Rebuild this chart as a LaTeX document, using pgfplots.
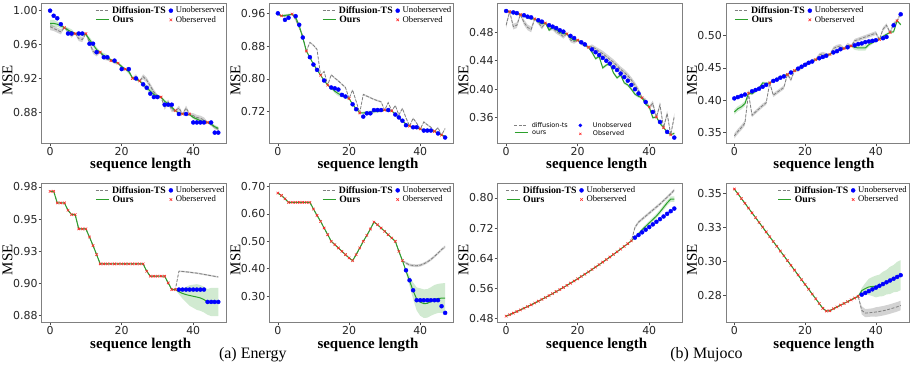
\documentclass[border=0pt]{standalone}
\usepackage{fontspec}
\setmainfont{Liberation Serif}
\newfontfamily\dejavu{DejaVu Sans}
\usepackage{pgfplots}
\usepackage{pgfplotstable}
\pgfplotsset{compat=1.18}
\usepgfplotslibrary{fillbetween}

\definecolor{oursgreen}{RGB}{44,160,44}
\definecolor{obsred}{RGB}{255,40,40}

% columns: x, unobserved truth, observed truth, ours mean, ours spread, diffusion-ts mean, diffusion-ts spread
\pgfplotstableread{
x unob ob ours osd dts dsd
0 1.000 nan 0.985 0.004 0.981 0.004
1 0.994 nan 0.985 0.004 0.979 0.003
2 0.991 nan 0.984 0.003 0.977 0.003
3 0.984 nan 0.982 0.003 0.975 0.003
4 nan 0.980 0.980 0.001 0.980 0.001
5 0.973 nan 0.977 0.003 0.976 0.003
6 0.973 nan 0.975 0.003 0.971 0.003
7 nan 0.973 0.973 0.001 0.973 0.001
8 0.973 nan 0.972 0.002 0.967 0.003
9 0.973 nan 0.972 0.002 0.966 0.003
10 nan 0.973 0.972 0.001 0.973 0.001
11 0.961 nan 0.966 0.003 0.962 0.003
12 0.961 nan 0.960 0.003 0.952 0.003
13 0.951 nan 0.954 0.003 0.949 0.003
14 nan 0.951 0.951 0.001 0.951 0.001
15 0.945 nan 0.947 0.003 0.944 0.002
16 0.945 nan 0.945 0.003 0.943 0.002
17 nan 0.941 0.942 0.001 0.941 0.001
18 0.941 nan 0.940 0.002 0.939 0.002
19 nan 0.938 0.938 0.001 0.938 0.001
20 0.931 nan 0.934 0.002 0.933 0.002
21 nan 0.931 0.931 0.001 0.931 0.001
22 0.931 nan 0.928 0.003 0.929 0.002
23 nan 0.920 0.921 0.001 0.920 0.001
24 0.920 nan 0.919 0.002 0.922 0.003
25 nan 0.917 0.917 0.001 0.917 0.001
26 0.913 nan 0.913 0.003 0.922 0.003
27 0.909 nan 0.909 0.003 0.918 0.003
28 0.902 nan 0.905 0.003 0.911 0.003
29 0.898 nan 0.901 0.003 0.904 0.003
30 0.898 nan 0.899 0.002 0.899 0.002
31 nan 0.898 0.898 0.001 0.898 0.001
32 0.889 nan 0.893 0.002 0.886 0.003
33 0.889 nan 0.890 0.002 0.892 0.003
34 0.889 nan 0.886 0.002 0.883 0.003
35 nan 0.882 0.882 0.001 0.882 0.001
36 0.878 nan 0.879 0.002 0.885 0.003
37 nan 0.878 0.878 0.001 0.878 0.001
38 0.878 nan 0.878 0.002 0.885 0.003
39 nan 0.878 0.877 0.001 0.878 0.001
40 0.868 nan 0.874 0.002 0.876 0.003
41 0.868 nan 0.872 0.002 0.874 0.003
42 0.868 nan 0.870 0.002 0.873 0.003
43 0.868 nan 0.869 0.002 0.871 0.003
44 nan 0.868 0.868 0.001 0.868 0.001
45 0.868 nan 0.866 0.002 0.866 0.002
46 0.856 nan 0.863 0.002 0.862 0.002
47 0.856 nan 0.861 0.002 0.860 0.002
}\energytop

\pgfplotstableread{
x unob ob ours osd dts dsd
0 0.960 nan 0.958 0.002 0.957 0.002
1 nan 0.954 0.954 0.001 0.954 0.001
2 0.944 nan 0.955 0.003 0.953 0.002
3 0.949 nan 0.956 0.003 0.955 0.002
4 nan 0.958 0.958 0.001 0.958 0.001
5 0.953 nan 0.950 0.004 0.945 0.004
6 0.932 nan 0.930 0.004 0.925 0.004
7 0.901 nan 0.900 0.003 0.905 0.003
8 nan 0.868 0.868 0.001 0.868 0.001
9 0.853 nan 0.852 0.002 0.889 0.002
10 0.835 nan 0.836 0.002 0.882 0.002
11 0.822 nan 0.822 0.002 0.872 0.002
12 nan 0.809 0.809 0.001 0.809 0.001
13 0.796 nan 0.796 0.002 0.818 0.002
14 nan 0.785 0.785 0.001 0.785 0.001
15 0.779 nan 0.778 0.003 0.810 0.002
16 0.777 nan 0.770 0.005 0.802 0.002
17 0.774 nan 0.764 0.006 0.795 0.002
18 0.761 nan 0.760 0.005 0.787 0.002
19 0.757 nan 0.756 0.003 0.779 0.002
20 nan 0.752 0.752 0.001 0.752 0.001
21 0.738 nan 0.738 0.002 0.773 0.002
22 0.726 nan 0.727 0.002 0.745 0.002
23 nan 0.717 0.717 0.001 0.717 0.001
24 0.708 nan 0.717 0.003 0.762 0.002
25 0.716 nan 0.718 0.004 0.758 0.002
26 0.716 nan 0.719 0.004 0.754 0.002
27 0.724 nan 0.720 0.004 0.750 0.002
28 0.724 nan 0.721 0.004 0.747 0.002
29 0.724 nan 0.722 0.003 0.744 0.002
30 nan 0.724 0.724 0.001 0.724 0.001
31 0.724 nan 0.722 0.002 0.742 0.002
32 nan 0.722 0.722 0.001 0.722 0.001
33 0.713 nan 0.714 0.002 0.735 0.002
34 0.706 nan 0.705 0.002 0.712 0.002
35 0.698 nan 0.697 0.002 0.728 0.002
36 0.687 nan 0.690 0.002 0.705 0.002
37 nan 0.685 0.685 0.001 0.685 0.001
38 0.682 nan 0.682 0.002 0.704 0.002
39 0.682 nan 0.680 0.002 0.692 0.002
40 nan 0.678 0.678 0.001 0.678 0.001
41 0.674 nan 0.676 0.002 0.695 0.002
42 0.674 nan 0.675 0.002 0.688 0.002
43 0.674 nan 0.674 0.002 0.682 0.002
44 nan 0.672 0.672 0.001 0.672 0.001
45 0.667 nan 0.668 0.002 0.681 0.002
46 nan 0.663 0.663 0.001 0.663 0.001
47 0.657 nan 0.660 0.002 0.679 0.002
}\energytopb

\pgfplotstableread{
x unob ob ours osd dts dsd
0 0.510 nan 0.510 0.002 0.490 0.004
1 nan 0.509 0.509 0.001 0.509 0.002
2 0.508 nan 0.507 0.002 0.488 0.004
3 0.507 nan 0.506 0.002 0.490 0.004
4 nan 0.505 0.505 0.001 0.505 0.002
5 0.504 nan 0.503 0.002 0.494 0.004
6 0.502 nan 0.501 0.002 0.487 0.004
7 0.501 nan 0.499 0.002 0.484 0.004
8 nan 0.499 0.499 0.001 0.499 0.002
9 0.497 nan 0.495 0.002 0.494 0.003
10 0.495 nan 0.492 0.002 0.487 0.003
11 nan 0.493 0.493 0.001 0.493 0.002
12 0.490 nan 0.483 0.002 0.485 0.003
13 0.488 nan 0.487 0.002 0.486 0.003
14 0.486 nan 0.484 0.002 0.481 0.003
15 0.483 nan 0.480 0.002 0.478 0.003
16 0.481 nan 0.478 0.002 0.474 0.003
17 nan 0.478 0.478 0.001 0.478 0.002
18 0.475 nan 0.472 0.002 0.469 0.003
19 0.472 nan 0.469 0.002 0.467 0.003
20 nan 0.469 0.469 0.001 0.469 0.002
21 0.466 nan 0.465 0.002 0.465 0.003
22 0.463 nan 0.462 0.002 0.463 0.003
23 nan 0.459 0.459 0.001 0.459 0.002
24 0.456 nan 0.452 0.002 0.460 0.003
25 0.452 nan 0.443 0.002 0.457 0.003
26 0.448 nan 0.446 0.002 0.453 0.004
27 0.444 nan 0.430 0.002 0.450 0.004
28 0.440 nan 0.434 0.002 0.446 0.004
29 0.436 nan 0.436 0.002 0.442 0.004
30 0.431 nan 0.423 0.002 0.438 0.004
31 0.427 nan 0.416 0.002 0.433 0.004
32 0.422 nan 0.420 0.002 0.428 0.004
33 0.417 nan 0.409 0.002 0.424 0.004
34 0.412 nan 0.406 0.002 0.419 0.004
35 0.406 nan 0.400 0.002 0.413 0.004
36 0.400 nan 0.393 0.002 0.406 0.004
37 0.394 nan 0.390 0.002 0.398 0.004
38 nan 0.388 0.388 0.001 0.388 0.002
39 0.382 nan 0.379 0.002 0.384 0.003
40 nan 0.375 0.375 0.001 0.375 0.002
41 0.368 nan 0.360 0.002 0.380 0.004
42 nan 0.361 0.361 0.001 0.361 0.002
43 0.354 nan 0.352 0.002 0.378 0.004
44 nan 0.346 0.346 0.001 0.346 0.002
45 0.340 nan 0.340 0.002 0.366 0.004
46 nan 0.336 0.336 0.001 0.336 0.002
47 0.332 nan 0.338 0.002 0.362 0.004
}\mujocotop

\pgfplotstableread{
x unob ob ours osd dts dsd
0 0.403 nan 0.382 0.004 0.345 0.004
1 0.405 nan 0.387 0.004 0.352 0.004
2 0.407 nan 0.390 0.004 0.358 0.004
3 0.409 nan 0.395 0.004 0.365 0.004
4 nan 0.411 0.411 0.001 0.411 0.002
5 0.414 nan 0.410 0.002 0.377 0.003
6 0.416 nan 0.414 0.002 0.382 0.003
7 0.418 nan 0.419 0.002 0.387 0.003
8 0.421 nan 0.427 0.002 0.392 0.003
9 0.424 nan 0.426 0.002 0.396 0.003
10 nan 0.427 0.427 0.001 0.427 0.002
11 0.430 nan 0.430 0.002 0.408 0.003
12 0.432 nan 0.433 0.002 0.412 0.003
13 0.435 nan 0.436 0.002 0.416 0.003
14 0.437 nan 0.438 0.002 0.420 0.003
15 nan 0.440 0.440 0.001 0.440 0.002
16 0.443 nan 0.443 0.002 0.432 0.003
17 nan 0.446 0.446 0.001 0.446 0.002
18 0.449 nan 0.449 0.002 0.447 0.003
19 0.452 nan 0.452 0.002 0.451 0.003
20 0.455 nan 0.455 0.002 0.455 0.003
21 0.458 nan 0.458 0.002 0.458 0.003
22 0.460 nan 0.460 0.002 0.461 0.003
23 nan 0.463 0.463 0.001 0.463 0.002
24 0.465 nan 0.465 0.002 0.470 0.003
25 0.467 nan 0.467 0.002 0.472 0.003
26 0.469 nan 0.469 0.002 0.470 0.003
27 nan 0.471 0.471 0.001 0.471 0.002
28 0.474 nan 0.474 0.002 0.480 0.003
29 0.476 nan 0.476 0.002 0.483 0.003
30 0.479 nan 0.479 0.002 0.484 0.003
31 nan 0.480 0.480 0.001 0.480 0.002
32 0.482 nan 0.482 0.002 0.486 0.003
33 nan 0.484 0.484 0.001 0.484 0.002
34 0.485 nan 0.482 0.004 0.492 0.003
35 0.487 nan 0.481 0.004 0.494 0.003
36 0.488 nan 0.481 0.004 0.496 0.003
37 0.490 nan 0.481 0.004 0.498 0.003
38 0.491 nan 0.486 0.003 0.500 0.003
39 0.492 nan 0.489 0.002 0.502 0.003
40 0.493 nan 0.492 0.002 0.504 0.003
41 nan 0.494 0.494 0.001 0.494 0.002
42 0.496 nan 0.499 0.002 0.510 0.003
43 0.498 nan 0.502 0.002 0.516 0.003
44 nan 0.505 0.505 0.001 0.505 0.002
45 0.516 nan 0.506 0.002 0.518 0.003
46 nan 0.523 0.523 0.001 0.523 0.002
47 0.533 nan 0.517 0.002 0.535 0.003
}\mujocotopb

\pgfplotstableread{
x unob ob ours osd dts dsd
0 nan 0.9766 0.9766 0 0.9766 0
1 nan 0.9766 0.9766 0 0.9766 0
2 nan 0.9676 0.9676 0 0.9676 0
3 nan 0.9676 0.9676 0 0.9676 0
4 nan 0.9676 0.9676 0 0.9676 0
5 nan 0.9619 0.9619 0 0.9619 0
6 nan 0.9585 0.9585 0 0.9585 0
7 nan 0.9585 0.9585 0 0.9585 0
8 nan 0.9474 0.9474 0 0.9474 0
9 nan 0.9474 0.9474 0 0.9474 0
10 nan 0.9474 0.9474 0 0.9474 0
11 nan 0.9411 0.9411 0 0.9411 0
12 nan 0.9344 0.9344 0 0.9344 0
13 nan 0.9274 0.9274 0 0.9274 0
14 nan 0.9202 0.9202 0 0.9202 0
15 nan 0.9202 0.9202 0 0.9202 0
16 nan 0.9202 0.9202 0 0.9202 0
17 nan 0.9202 0.9202 0 0.9202 0
18 nan 0.9202 0.9202 0 0.9202 0
19 nan 0.9202 0.9202 0 0.9202 0
20 nan 0.9202 0.9202 0 0.9202 0
21 nan 0.9202 0.9202 0 0.9202 0
22 nan 0.9202 0.9202 0 0.9202 0
23 nan 0.9202 0.9202 0 0.9202 0
24 nan 0.9202 0.9202 0 0.9202 0
25 nan 0.9202 0.9202 0 0.9202 0
26 nan 0.9202 0.9202 0 0.9202 0
27 nan 0.9145 0.9145 0 0.9145 0
28 nan 0.9106 0.9106 0 0.9106 0
29 nan 0.9106 0.9106 0 0.9106 0
30 nan 0.9106 0.9106 0 0.9106 0
31 nan 0.9106 0.9106 0 0.9106 0
32 nan 0.9106 0.9106 0 0.9106 0
33 nan 0.9054 0.9054 0 0.9054 0
34 nan 0.9002 0.9002 0 0.9002 0
35 nan 0.9002 0.9002 0 0.9002 0
36 0.9002 nan 0.8985 0.002 0.9145 0.0006
37 0.9002 nan 0.8972 0.004 0.9143 0.0006
38 0.9002 nan 0.8963 0.006 0.9140 0.0006
39 0.9002 nan 0.8956 0.008 0.9137 0.0006
40 0.9002 nan 0.8950 0.009 0.9133 0.0006
41 0.9002 nan 0.8944 0.010 0.9130 0.0006
42 0.9002 nan 0.8937 0.010 0.9125 0.0006
43 0.9002 nan 0.8924 0.010 0.9120 0.0006
44 0.8906 nan 0.8906 0.010 0.9115 0.0006
45 0.8906 nan 0.8906 0.011 0.9110 0.0006
46 0.8906 nan 0.8906 0.011 0.9105 0.0006
47 0.8906 nan 0.8906 0.011 0.9100 0.0006
}\energybot

\pgfplotstableread{
x unob ob ours osd dts dsd
0 nan 0.6758 0.6758 0 0.6758 0
1 nan 0.6670 0.6670 0 0.6670 0
2 nan 0.6550 0.6550 0 0.6550 0
3 nan 0.6418 0.6418 0 0.6418 0
4 nan 0.6418 0.6418 0 0.6418 0
5 nan 0.6418 0.6418 0 0.6418 0
6 nan 0.6418 0.6418 0 0.6418 0
7 nan 0.6418 0.6418 0 0.6418 0
8 nan 0.6418 0.6418 0 0.6418 0
9 nan 0.6418 0.6418 0 0.6418 0
10 nan 0.6176 0.6176 0 0.6176 0
11 nan 0.5945 0.5945 0 0.5945 0
12 nan 0.5727 0.5727 0 0.5727 0
13 nan 0.5485 0.5485 0 0.5485 0
14 nan 0.5242 0.5242 0 0.5242 0
15 nan 0.5000 0.5000 0 0.5000 0
16 nan 0.4879 0.4879 0 0.4879 0
17 nan 0.4758 0.4758 0 0.4758 0
18 nan 0.4636 0.4636 0 0.4636 0
19 nan 0.4515 0.4515 0 0.4515 0
20 nan 0.4394 0.4394 0 0.4394 0
21 nan 0.4297 0.4297 0 0.4297 0
22 nan 0.4515 0.4515 0 0.4515 0
23 nan 0.4758 0.4758 0 0.4758 0
24 nan 0.5000 0.5000 0 0.5000 0
25 nan 0.5218 0.5218 0 0.5218 0
26 nan 0.5448 0.5448 0 0.5448 0
27 nan 0.5703 0.5703 0 0.5703 0
28 nan 0.5606 0.5606 0 0.5606 0
29 nan 0.5485 0.5485 0 0.5485 0
30 nan 0.5364 0.5364 0 0.5364 0
31 nan 0.5242 0.5242 0 0.5242 0
32 nan 0.5121 0.5121 0 0.5121 0
33 nan 0.5000 0.5000 0 0.5000 0
34 nan 0.4636 0.4636 0 0.4636 0
35 nan 0.4297 0.4297 0 0.4297 0
36 0.3945 nan 0.392 0.008 0.421 0.005
37 0.3582 nan 0.356 0.018 0.414 0.005
38 0.3218 nan 0.320 0.030 0.412 0.005
39 0.2855 nan 0.290 0.042 0.411 0.005
40 0.2855 nan 0.279 0.050 0.413 0.005
41 0.2855 nan 0.273 0.052 0.418 0.005
42 0.2855 nan 0.274 0.052 0.425 0.005
43 0.2855 nan 0.281 0.052 0.434 0.005
44 0.2855 nan 0.288 0.053 0.445 0.005
45 0.2855 nan 0.292 0.053 0.457 0.005
46 0.2636 nan 0.293 0.054 0.470 0.005
47 0.2394 nan 0.293 0.055 0.480 0.005
}\energybotb

\pgfplotstableread{
x unob ob ours osd dts dsd
0 nan 0.4870 0.4870 0 0.4870 0
1 nan 0.4910 0.4910 0 0.4910 0
2 nan 0.4951 0.4951 0 0.4951 0
3 nan 0.4993 0.4993 0 0.4993 0
4 nan 0.5036 0.5036 0 0.5036 0
5 nan 0.5080 0.5080 0 0.5080 0
6 nan 0.5125 0.5125 0 0.5125 0
7 nan 0.5171 0.5171 0 0.5171 0
8 nan 0.5218 0.5218 0 0.5218 0
9 nan 0.5266 0.5266 0 0.5266 0
10 nan 0.5315 0.5315 0 0.5315 0
11 nan 0.5365 0.5365 0 0.5365 0
12 nan 0.5416 0.5416 0 0.5416 0
13 nan 0.5468 0.5468 0 0.5468 0
14 nan 0.5521 0.5521 0 0.5521 0
15 nan 0.5575 0.5575 0 0.5575 0
16 nan 0.5630 0.5630 0 0.5630 0
17 nan 0.5686 0.5686 0 0.5686 0
18 nan 0.5743 0.5743 0 0.5743 0
19 nan 0.5801 0.5801 0 0.5801 0
20 nan 0.5860 0.5860 0 0.5860 0
21 nan 0.5920 0.5920 0 0.5920 0
22 nan 0.5981 0.5981 0 0.5981 0
23 nan 0.6043 0.6043 0 0.6043 0
24 nan 0.6106 0.6106 0 0.6106 0
25 nan 0.6170 0.6170 0 0.6170 0
26 nan 0.6235 0.6235 0 0.6235 0
27 nan 0.6301 0.6301 0 0.6301 0
28 nan 0.6368 0.6368 0 0.6368 0
29 nan 0.6436 0.6436 0 0.6436 0
30 nan 0.6505 0.6505 0 0.6505 0
31 nan 0.6575 0.6575 0 0.6575 0
32 nan 0.6646 0.6646 0 0.6646 0
33 nan 0.6718 0.6718 0 0.6718 0
34 nan 0.6791 0.6791 0 0.6791 0
35 nan 0.6865 0.6865 0 0.6865 0
36 0.695 nan 0.696 0.002 0.722 0.004
37 0.702 nan 0.705 0.003 0.736 0.004
38 0.709 nan 0.716 0.004 0.744 0.004
39 0.716 nan 0.725 0.005 0.752 0.004
40 0.723 nan 0.734 0.005 0.760 0.004
41 0.730 nan 0.743 0.006 0.768 0.004
42 0.737 nan 0.752 0.006 0.776 0.004
43 0.744 nan 0.763 0.006 0.784 0.004
44 0.751 nan 0.775 0.007 0.793 0.004
45 0.758 nan 0.787 0.007 0.802 0.004
46 0.765 nan 0.797 0.007 0.811 0.004
47 0.772 nan 0.797 0.007 0.821 0.004
}\mujocobot

\pgfplotstableread{
x unob ob ours osd dts dsd
0 nan 0.3530 0.3530 0 0.3530 0
1 nan 0.3495 0.3495 0 0.3495 0
2 nan 0.3460 0.3460 0 0.3460 0
3 nan 0.3425 0.3425 0 0.3425 0
4 nan 0.3390 0.3390 0 0.3390 0
5 nan 0.3355 0.3355 0 0.3355 0
6 nan 0.3320 0.3320 0 0.3320 0
7 nan 0.3285 0.3285 0 0.3285 0
8 nan 0.3250 0.3250 0 0.3250 0
9 nan 0.3215 0.3215 0 0.3215 0
10 nan 0.3180 0.3180 0 0.3180 0
11 nan 0.3145 0.3145 0 0.3145 0
12 nan 0.3110 0.3110 0 0.3110 0
13 nan 0.3075 0.3075 0 0.3075 0
14 nan 0.3040 0.3040 0 0.3040 0
15 nan 0.3005 0.3005 0 0.3005 0
16 nan 0.2970 0.2970 0 0.2970 0
17 nan 0.2935 0.2935 0 0.2935 0
18 nan 0.2900 0.2900 0 0.2900 0
19 nan 0.2865 0.2865 0 0.2865 0
20 nan 0.2830 0.2830 0 0.2830 0
21 nan 0.2795 0.2795 0 0.2795 0
22 nan 0.2760 0.2760 0 0.2760 0
23 nan 0.2725 0.2725 0 0.2725 0
24 nan 0.2690 0.2690 0 0.2690 0
25 nan 0.2655 0.2655 0 0.2655 0
26 nan 0.2635 0.2635 0 0.2635 0
27 nan 0.2637 0.2637 0 0.2637 0
28 nan 0.2652 0.2652 0 0.2652 0
29 nan 0.2665 0.2665 0 0.2665 0
30 nan 0.2678 0.2678 0 0.2678 0
31 nan 0.2691 0.2691 0 0.2691 0
32 nan 0.2704 0.2704 0 0.2704 0
33 nan 0.2717 0.2717 0 0.2717 0
34 nan 0.2730 0.2730 0 0.2730 0
35 nan 0.2743 0.2743 0 0.2743 0
36 0.2755 nan 0.2785 0.002 0.2640 0.003
37 0.2768 nan 0.2800 0.004 0.2620 0.003
38 0.2781 nan 0.2812 0.006 0.2622 0.003
39 0.2794 nan 0.2815 0.007 0.2625 0.003
40 0.2807 nan 0.2815 0.008 0.2628 0.0035
41 0.2820 nan 0.2822 0.008 0.2632 0.0035
42 0.2833 nan 0.2834 0.009 0.2637 0.0035
43 0.2846 nan 0.2847 0.009 0.2643 0.0035
44 0.2859 nan 0.2860 0.010 0.2650 0.0035
45 0.2872 nan 0.2873 0.010 0.2658 0.0035
46 0.2885 nan 0.2886 0.011 0.2666 0.0035
47 0.2898 nan 0.2898 0.011 0.2676 0.0035
}\mujocobotb

\pgfplotsset{
  panel/.style={
    scale only axis,
    xmin=-2.35, xmax=49.35,
    xtick={0,20,40},
    axis line style={black!50, line width=0.8bp},
    tick style={black!70, line width=0.6bp},
    tick align=outside,
    major tick length=3bp,
    xtick pos=left, ytick pos=left,
    ticklabel style={font=\dejavu\fontsize{11}{11}\selectfont, text=black!85, inner sep=1bp},
    /pgf/number format/assume math mode=true,
    yticklabel style={/pgf/number format/fixed, /pgf/number format/fixed zerofill, /pgf/number format/precision=2},
    scaled y ticks=false,
    xlabel={sequence length}, ylabel={MSE},
    xlabel style={font=\bfseries\fontsize{15}{15}\selectfont, inner sep=0bp,
      at={(axis description cs:0.535,-0.108)}, anchor=north},
    ylabel style={font=\fontsize{15}{15}\selectfont, inner sep=0bp,
      at={(axis description cs:-0.157,0.45)}, anchor=south},
    legend columns=2,
    legend cell align=left,
    legend style={draw=none, fill=none, font=\fontsize{9.8}{10}\selectfont,
      inner sep=0bp, column sep=2bp, row sep=-1bp, nodes={inner sep=1bp}},
  },
  legNE/.style={legend style={at={(1,1)}, anchor=north east, xshift=-1bp, yshift=-2bp}},
  legNW/.style={legend style={at={(0,1)}, anchor=north west, xshift=5bp, yshift=-2bp}},
}

% short line samples that sit in front of the legend texts
\newcommand\dtsimg{\tikz[baseline=-0.6ex]\draw[draw=gray, dash pattern=on 3bp off 1.5bp, line width=0.9bp] (0bp,0bp) -- (13bp,0bp);}
\newcommand\oursimg{\tikz[baseline=-0.6ex]\draw[draw=oursgreen, line width=1.3bp] (0bp,0bp) -- (13bp,0bp);}

\newcommand\stdlegend{%
  \addlegendimage{empty legend}
  \addlegendentry{\dtsimg\hspace{3bp}\bfseries Diffusion-TS}
  \addlegendimage{only marks, mark=*, blue, mark size=2bp}
  \addlegendentry{\fontsize{8.7}{9}\selectfont Unoberserved}
  \addlegendimage{empty legend}
  \addlegendentry{\oursimg\hspace{3bp}\bfseries Ours}
  \addlegendimage{only marks, mark=x, obsred, mark size=1.8bp, line width=0.6bp}
  \addlegendentry{\fontsize{8.7}{9}\selectfont Oberserved}
}

\newcommand\drawpanel[1]{%
  \addplot[draw=none, name path=du, forget plot] table[x=x, y expr=\thisrow{dts}+\thisrow{dsd}] {#1};
  \addplot[draw=none, name path=dl, forget plot] table[x=x, y expr=\thisrow{dts}-\thisrow{dsd}] {#1};
  \addplot[fill=gray, fill opacity=0.35, draw=none, forget plot] fill between[of=du and dl];
  \addplot[draw=none, name path=ou, forget plot] table[x=x, y expr=\thisrow{ours}+\thisrow{osd}] {#1};
  \addplot[draw=none, name path=ol, forget plot] table[x=x, y expr=\thisrow{ours}-\thisrow{osd}] {#1};
  \addplot[fill=oursgreen, fill opacity=0.22, draw=none, forget plot] fill between[of=ou and ol];
  \addplot[gray, dash pattern=on 3bp off 1.5bp, line width=0.8bp, forget plot] table[x=x, y=dts] {#1};
  \addplot[oursgreen, line width=1bp, forget plot] table[x=x, y=ours] {#1};
  \addplot[only marks, mark=*, blue, mark size=2bp, forget plot] table[x=x, y=unob] {#1};
  \addplot[only marks, mark=x, obsred, mark size=1.8bp, line width=0.6bp, forget plot] table[x=x, y=ob] {#1};
}

\begin{document}
\begin{tikzpicture}

% ---- top row ----
\begin{axis}[panel, legNE, at={(41.7bp,222.7bp)}, anchor=south west,
  width=185bp, height=140bp, ymin=0.8434, ymax=1.0087,
  ytick={0.88,0.92,0.96,1.00}]
\stdlegend
\drawpanel{\energytop}
\end{axis}

\begin{axis}[panel, legNE, at={(269.5bp,222.7bp)}, anchor=south west,
  width=184bp, height=140bp, ymin=0.6429, ymax=0.9844,
  ytick={0.72,0.80,0.88,0.96}]
\stdlegend
\drawpanel{\energytopb}
\end{axis}

\begin{axis}[panel, at={(497.7bp,222.7bp)}, anchor=south west,
  width=185bp, height=140bp, ymin=0.324, ymax=0.5208,
  ytick={0.36,0.40,0.44,0.48},
  legend style={at={(0,0)}, anchor=south west, xshift=5bp, yshift=5bp,
    font=\dejavu\fontsize{6.5}{7}\selectfont, column sep=10bp, row sep=0bp}]
\addlegendimage{empty legend}
\addlegendentry{\dtsimg\hspace{4bp}diffusion-ts}
\addlegendimage{only marks, mark=*, blue, mark size=1.6bp}
\addlegendentry{Unobserved}
\addlegendimage{empty legend}
\addlegendentry{\oursimg\hspace{4bp}ours}
\addlegendimage{only marks, mark=x, obsred, mark size=1.5bp, line width=0.6bp}
\addlegendentry{Observed}
\drawpanel{\mujocotop}
\end{axis}

\begin{axis}[panel, legNW, at={(726bp,222.7bp)}, anchor=south west,
  width=183bp, height=140bp, ymin=0.3336, ymax=0.550,
  ytick={0.35,0.40,0.45,0.50}]
\stdlegend
\drawpanel{\mujocotopb}
\end{axis}

% ---- bottom row ----
\begin{axis}[panel, legNE, at={(41.7bp,43.5bp)}, anchor=south west,
  width=185bp, height=139.5bp, ymin=0.8746, ymax=0.9831,
  ytick={0.88,0.905,0.93,0.955,0.98},
  yticklabels={0.88,0.90,0.93,0.95,0.98}]
\stdlegend
\drawpanel{\energybot}
\end{axis}

\begin{axis}[panel, legNE, at={(269.5bp,43.5bp)}, anchor=south west,
  width=184bp, height=139.5bp, ymin=0.2044, ymax=0.7124,
  ytick={0.30,0.40,0.50,0.60,0.70}]
\stdlegend
\drawpanel{\energybotb}
\end{axis}

\begin{axis}[panel, legNW, at={(497.7bp,43.5bp)}, anchor=south west,
  width=185bp, height=139.5bp, ymin=0.4702, ymax=0.8397,
  ytick={0.48,0.56,0.64,0.72,0.80}]
\stdlegend
\drawpanel{\mujocobot}
\end{axis}

\begin{axis}[panel, legNE, at={(726bp,43.5bp)}, anchor=south west,
  width=183bp, height=139.5bp, ymin=0.2551, ymax=0.3574,
  ytick={0.275,0.30,0.325,0.35},
  yticklabels={0.28,0.30,0.33,0.35}]
\stdlegend
\drawpanel{\mujocobotb}
\end{axis}

\node[font=\fontsize{16}{16}\selectfont, anchor=base] at (252.8bp,8bp) {(a) Energy};
\node[font=\fontsize{16}{16}\selectfont, anchor=base] at (706.5bp,8bp) {(b) Mujoco};

\pgfresetboundingbox
\path[use as bounding box] (0,0) rectangle (913bp,366bp);
\end{tikzpicture}
\end{document}
